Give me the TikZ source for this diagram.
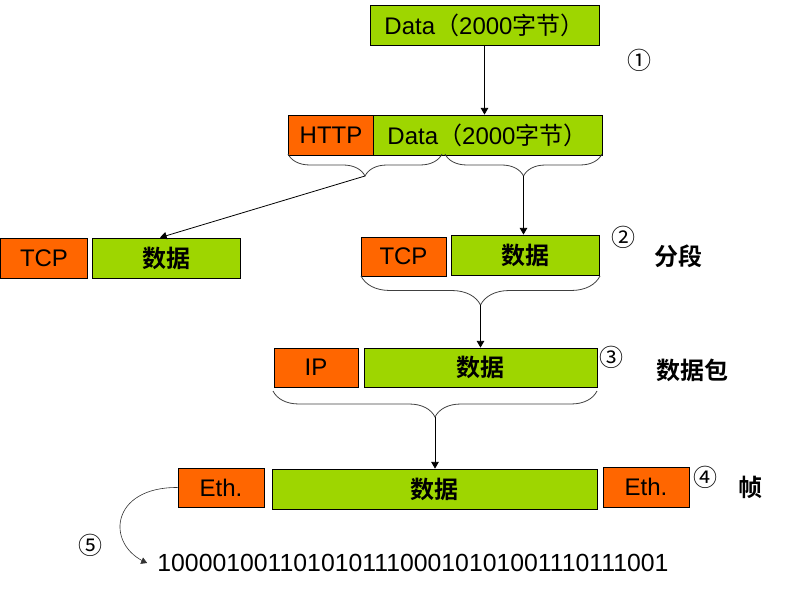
\documentclass[tikz,border=0pt]{standalone}
\usepackage{fontspec}
\setmainfont{Liberation Sans}
\newfontfamily\cjk{Noto Sans CJK SC}[BoldFont=Noto Sans CJK SC Bold]
\usepackage{tikz}
\usetikzlibrary{arrows}
\usetikzlibrary{decorations.pathreplacing}

\begin{document}
\begin{tikzpicture}[x=1pt,y=-1pt,
  txt/.style={font=\fontsize{24}{28}\selectfont},
  hdr/.style={txt,draw,line width=0.8pt,fill=hdrcol,inner sep=0pt},
  pay/.style={txt,draw,line width=0.8pt,fill=paycol,inner sep=0pt},
  brc/.style={draw=black!75,line width=0.8pt,decorate,decoration={brace,amplitude=#1}},
  arr/.style={-triangle 60,line width=0.8pt}]
\definecolor{hdrcol}{RGB}{255,102,0}
\definecolor{paycol}{RGB}{158,214,0}
\useasboundingbox (0,0) rectangle (789,593);
\draw 
(484.5,25) node[pay,minimum width=229,minimum height=40](data0){Data{\cjk （}2000{\cjk 字节）}}
(331,135) node[hdr,minimum width=85,minimum height=40](http){HTTP}
(487.5,135) node[pay,minimum width=229,minimum height=40](data1){Data{\cjk （}2000{\cjk 字节）}}
(44,258) node[hdr,minimum width=87,minimum height=40](tcpL){TCP}
(166,258) node[pay,minimum width=148,minimum height=40](segL){\cjk\bfseries 数据}
(403.5,256.5) node[hdr,minimum width=85,minimum height=39](tcpR){TCP}
(525,255) node[pay,minimum width=148,minimum height=40](segR){\cjk\bfseries 数据}
(316,367.5) node[hdr,minimum width=84,minimum height=39](ip){IP}
(480.5,367.5) node[pay,minimum width=233,minimum height=39](pkt){\cjk\bfseries 数据}
(221,487.5) node[hdr,minimum width=86,minimum height=39](ethL){Eth.}
(434.5,489) node[pay,minimum width=325,minimum height=40](frame){\cjk\bfseries 数据}
(646,487) node[hdr,minimum width=86,minimum height=40](ethR){Eth.}
(413,563) node[font=\fontsize{24.8}{28}\selectfont,inner sep=0pt](bits){10000100110101011100010101001110111001}
;
%%% step numbers and names
\foreach \n/\x/\y/\l in {n1/639/60/①, n2/623/237/②, n3/611/357/③, n4/705/477/④, n5/90/545/⑤}{
\node[txt] (\n) at (\x,\y) {\cjk \l};
}
\foreach \n/\x/\y/\l in {lblSeg/678/256/分段, lblPkt/692/370/数据包, lblFrame/750/487/帧}{
\node[txt] (\n) at (\x,\y) {\cjk\bfseries \l};
}
%%% braces
\draw[brc=22] (442,154) -- (288,154);
\draw[brc=22] (602,154) -- (445,154);
\draw[brc=29] (600,276) -- (361,276);
\draw[brc=26] (597,391) -- (273,391);
\coordinate (tipA) at (365,176);
\coordinate (tipB) at (523.5,176);
\coordinate (tipC) at (480.5,305);
\coordinate (tipD) at (435,417);
%%% arrows
\draw[arr] (data0.south) -- (data0.south |- data1.north);
\draw[arr] (tipA) -- ([xshift=-6]segL.north);
\draw[arr] (tipB) -- (tipB |- segR.north);
\draw[arr] (tipC) -- (tipC |- pkt.north);
\draw[arr] (tipD) -- (tipD |- frame.north);
\draw[arr,line width=0.6pt,black!80] (ethL.west) .. controls (110,487) and (105,545) .. ([xshift=-10]bits.west);

\end{tikzpicture}
\end{document}
